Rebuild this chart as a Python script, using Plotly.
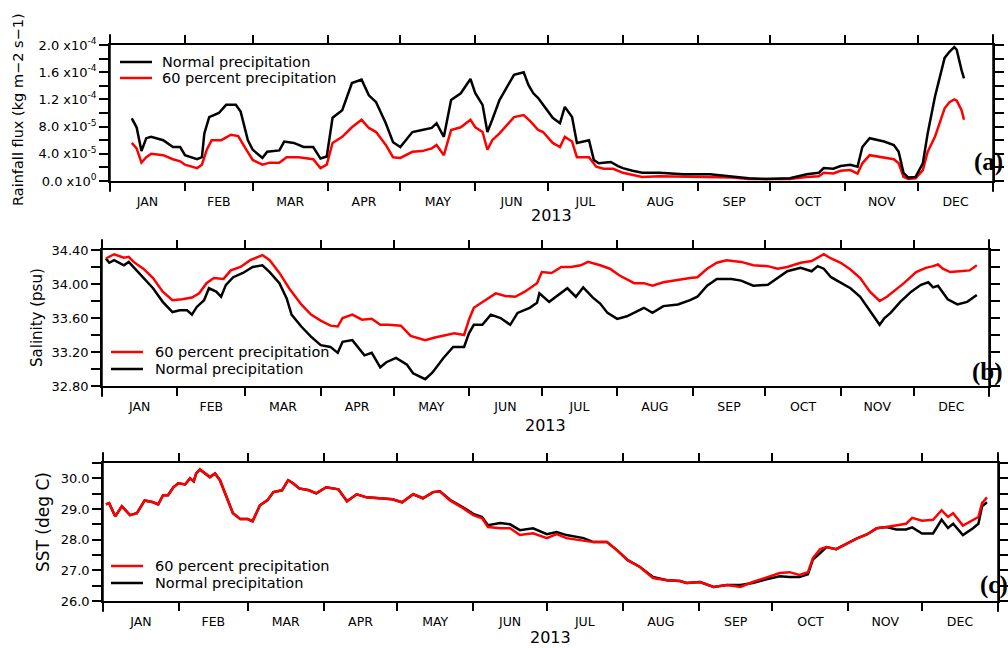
"""Three-panel time series: rainfall flux, salinity and SST for 2013."""

import pandas as pd
import plotly.graph_objects as go

# ---------------- data (day of year 2013) -------------
# (a) rainfall flux, in units of 1e-5 kg m-2 s-1
rain_normal_days = [9, 11, 13, 15, 17, 22, 26, 29, 31, 36, 38, 39, 41, 45, 48, 52, 54, 57, 59, 63,
                    65, 70, 72, 76, 80, 84, 87, 89.6, 92, 96, 100, 104, 107, 110, 114, 117, 120, 125,
                    129, 133, 135, 138, 141, 145, 149, 151, 154, 156, 158, 161, 167, 171, 173, 175,
                    177, 179, 183, 186, 188, 191, 193, 198, 200, 202, 207, 210, 212, 216, 220, 227,
                    237, 248, 257, 264, 271, 281, 288, 293, 295, 299, 302, 306, 309, 311, 314, 320,
                    324, 326, 328, 330, 333, 336, 338, 341, 345, 347, 349, 350, 352, 353]
rain_normal = [9.2, 7.9, 4.4, 6.3, 6.5, 6.0, 5.0, 5.0, 3.8, 3.2, 3.5, 7.0, 9.4, 10.0, 11.2, 11.2, 10.2,
               6.0, 4.6, 3.4, 4.3, 4.5, 5.8, 5.6, 5.0, 5.0, 3.3, 3.6, 9.3, 10.4, 14.4, 14.9, 12.6,
               11.6, 8.5, 5.7, 5.0, 7.2, 7.5, 7.8, 8.5, 6.5, 11.9, 12.9, 15.0, 12.9, 11.2, 7.2, 9.0,
               11.9, 15.6, 16.0, 14.1, 12.9, 12.2, 11.2, 9.3, 8.5, 10.9, 9.4, 5.6, 6.0, 3.1, 2.6,
               2.8, 2.2, 1.9, 1.5, 1.2, 1.2, 1.0, 1.0, 0.7, 0.4, 0.3, 0.4, 1.0, 1.2, 1.9, 1.8, 2.2,
               2.4, 2.1, 5.0, 6.3, 5.8, 5.3, 4.3, 1.2, 0.5, 0.6, 2.6, 7.0, 12.4, 18.1, 19.0, 19.7,
               19.3, 16.3, 15.1]

rain_60_days = [9, 11, 13, 15, 17, 22, 26, 29, 31, 36, 38, 40, 42, 46, 50, 53, 56, 59, 63, 66, 70,
                73, 78, 84, 87, 89.6, 92, 96, 100, 104, 107, 110, 114, 117, 120, 125, 129, 133, 135,
                138, 141, 145, 149, 151, 154, 156, 158, 161, 167, 171, 174, 177, 179, 183, 186, 188,
                191, 193, 198, 201, 204, 208, 212, 216, 220, 227, 237, 248, 257, 264, 271, 281, 288,
                293, 295, 299, 302, 306, 309, 311, 314, 320, 324, 326, 328, 330, 333, 336, 338, 341,
                345, 347, 349, 350, 352, 353]
rain_60 = [5.6, 4.8, 2.7, 3.5, 4.0, 3.8, 3.2, 2.9, 2.4, 1.9, 2.4, 4.6, 6.0, 6.0, 6.8, 6.6, 4.8, 3.1,
           2.4, 2.7, 2.7, 3.5, 3.5, 3.2, 1.9, 2.4, 5.6, 6.5, 7.9, 9.0, 7.8, 7.2, 5.3, 3.5, 3.4, 4.3,
           4.4, 4.8, 5.3, 3.8, 7.5, 7.9, 9.0, 7.9, 7.2, 4.6, 6.0, 7.0, 9.4, 9.7, 8.7, 7.5, 7.2, 5.6,
           5.0, 6.5, 5.8, 3.5, 3.5, 2.1, 1.8, 1.8, 1.2, 0.9, 0.6, 0.7, 0.6, 0.6, 0.5, 0.3, 0.3, 0.3,
           0.6, 0.7, 1.2, 1.1, 1.5, 1.6, 1.1, 2.6, 3.8, 3.5, 3.2, 2.6, 0.6, 0.3, 0.4, 1.6, 4.3, 6.5,
           10.7, 11.6, 12.0, 11.8, 10.4, 9.0]

# (b) salinity, psu
sal_normal_days = [1.6, 3, 5, 9, 11, 13, 17, 21, 25, 29, 32, 35, 37, 39, 42, 44, 47, 49, 51, 54, 58,
                   62, 66, 69, 73, 76, 78, 82, 86, 90, 94, 97, 99, 103, 108, 111, 114.5, 117, 121,
                   125.5, 128, 133, 136, 140.5, 144.5, 149, 151, 153, 156.5, 160, 164, 168, 171,
                   176, 179, 180, 184, 187, 191.5, 195, 198, 202, 205, 208, 212, 216, 219, 223,
                   226.5, 231, 237, 242, 245, 249, 253, 259, 263, 268, 274, 278, 282, 287.5, 292,
                   294.5, 297, 300, 304, 308, 312, 316, 318, 320, 322, 324.5, 328.5, 333, 337, 340,
                   342, 344, 348, 352, 356, 360]
sal_normal = [34.30, 34.25, 34.28, 34.22, 34.26, 34.20, 34.08, 33.95, 33.79, 33.67, 33.69, 33.69,
              33.64, 33.73, 33.81, 33.95, 33.91, 33.85, 33.99, 34.08, 34.13, 34.20, 34.22, 34.14,
              34.01, 33.83, 33.64, 33.50, 33.38, 33.28, 33.26, 33.19, 33.32, 33.34, 33.16, 33.19,
              33.02, 33.08, 33.13, 33.05, 32.95, 32.88, 32.96, 33.13, 33.26, 33.26, 33.42, 33.52,
              33.52, 33.64, 33.60, 33.52, 33.66, 33.72, 33.78, 33.89, 33.79, 33.85, 33.95, 33.85,
              33.96, 33.84, 33.77, 33.66, 33.59, 33.62, 33.66, 33.72, 33.66, 33.74, 33.76, 33.81,
              33.85, 33.98, 34.06, 34.06, 34.04, 33.98, 33.99, 34.07, 34.15, 34.19, 34.15, 34.21,
              34.18, 34.08, 34.01, 33.95, 33.85, 33.69, 33.61, 33.52, 33.60, 33.66, 33.79, 33.91,
              33.99, 34.02, 33.96, 33.98, 33.82, 33.76, 33.79, 33.87]

sal_60_days = [1.6, 5, 9, 11, 13, 17, 21, 25, 29, 33, 37, 40, 43, 46, 50, 53, 57, 61, 66, 69, 73, 77,
               82, 86, 90, 94, 97, 99, 103, 107, 111, 114.5, 118, 123, 127, 133, 137, 140.5, 145,
               149, 151, 153, 158, 162, 166, 170, 174, 179, 181, 185, 189, 193, 197, 200, 205, 209,
               213, 219, 223, 226.5, 231, 237, 242, 245, 249, 253, 257, 263, 268, 274, 278, 282,
               287.5, 292, 295, 297, 300, 304, 308, 312, 316, 320, 323, 326.5, 330, 335, 339, 342,
               344, 346, 349, 353, 357, 360]
sal_60 = [34.30, 34.35, 34.31, 34.32, 34.26, 34.18, 34.07, 33.91, 33.81, 33.82, 33.84, 33.89, 34.01,
          34.07, 34.06, 34.16, 34.20, 34.28, 34.34, 34.28, 34.13, 33.95, 33.76, 33.64, 33.57, 33.51,
          33.50, 33.60, 33.64, 33.58, 33.59, 33.52, 33.52, 33.51, 33.39, 33.34, 33.37, 33.39, 33.42,
          33.40, 33.58, 33.72, 33.81, 33.89, 33.86, 33.85, 33.91, 34.01, 34.14, 34.13, 34.20, 34.20,
          34.22, 34.26, 34.22, 34.18, 34.10, 34.01, 34.01, 33.98, 34.02, 34.05, 34.07, 34.08, 34.18,
          34.25, 34.28, 34.26, 34.22, 34.21, 34.18, 34.20, 34.25, 34.27, 34.32, 34.35, 34.30, 34.25,
          34.17, 34.07, 33.91, 33.80, 33.85, 33.93, 34.01, 34.14, 34.19, 34.21, 34.23, 34.18, 34.14,
          34.15, 34.16, 34.22]

# (c) SST, deg C
sst_days = [1.2, 2.5, 5, 7.7, 11, 13.8, 17, 20.5, 22.5, 24.5, 26.5, 28.7, 30.7, 33.5, 35.5, 37, 38,
            39.5, 43.6, 45.7, 47.7, 50.5, 53, 56, 59, 61, 64, 67, 69.5, 73, 75.5, 77.5, 80, 84, 87,
            91, 96, 99.5, 103.5, 107.5, 113, 118, 122, 126.5, 130.5, 134.6, 137.4, 141.5, 147, 151,
            154.6, 157, 162, 166, 170, 175.4, 181, 185, 189, 196, 200, 205.5, 209.6, 214, 219,
            224.3, 230, 235.3, 238, 243.5, 249, 254.5, 260, 265, 271, 276, 280, 284, 287.5, 289.5,
            292.5, 295, 299, 303.5, 307.5, 311.5, 315.5, 319.5, 323.5, 327.5, 330, 334, 338.5, 342,
            344.6, 346.7, 350.7, 354.8, 357, 358.5, 360.5]
sst_normal = [29.15, 29.19, 28.76, 29.09, 28.80, 28.86, 29.28, 29.22, 29.15, 29.45, 29.45, 29.71,
              29.84, 29.80, 30.00, 29.90, 30.16, 30.29, 30.04, 30.16, 29.94, 29.38, 28.86, 28.67,
              28.67, 28.60, 29.12, 29.28, 29.55, 29.61, 29.94, 29.84, 29.67, 29.61, 29.51, 29.71,
              29.64, 29.25, 29.48, 29.38, 29.35, 29.32, 29.22, 29.48, 29.35, 29.55, 29.58, 29.30,
              29.05, 28.84, 28.74, 28.47, 28.54, 28.50, 28.31, 28.37, 28.18, 28.25, 28.15, 28.05,
              27.92, 27.92, 27.66, 27.33, 27.11, 26.78, 26.68, 26.65, 26.59, 26.62, 26.46, 26.52,
              26.52, 26.59, 26.72, 26.81, 26.78, 26.78, 26.87, 27.35, 27.56, 27.76, 27.69, 27.89,
              28.04, 28.17, 28.37, 28.41, 28.33, 28.33, 28.40, 28.20, 28.20, 28.65, 28.38, 28.52,
              28.15, 28.37, 28.52, 29.09, 29.22]
sst_60 = [29.15, 29.19, 28.76, 29.09, 28.80, 28.86, 29.28, 29.22, 29.15, 29.45, 29.45, 29.71,
          29.84, 29.80, 30.00, 29.90, 30.16, 30.29, 30.04, 30.16, 29.94, 29.38, 28.86, 28.67,
          28.67, 28.60, 29.12, 29.28, 29.55, 29.61, 29.94, 29.84, 29.67, 29.61, 29.51, 29.71,
          29.64, 29.25, 29.48, 29.38, 29.35, 29.32, 29.22, 29.48, 29.35, 29.55, 29.58, 29.28,
          29.02, 28.80, 28.70, 28.41, 28.37, 28.37, 28.15, 28.21, 28.05, 28.18, 28.05, 27.98,
          27.92, 27.92, 27.66, 27.33, 27.11, 26.75, 26.68, 26.65, 26.59, 26.62, 26.46, 26.52,
          26.46, 26.62, 26.78, 26.91, 26.94, 26.85, 26.94, 27.40, 27.69, 27.76, 27.69, 27.89,
          28.04, 28.17, 28.37, 28.41, 28.46, 28.52, 28.71, 28.62, 28.65, 28.96, 28.74, 28.86,
          28.46, 28.65, 28.74, 29.19, 29.38]

month_labels = ["JAN", "FEB", "MAR", "APR", "MAY", "JUN", "JUL", "AUG", "SEP", "OCT", "NOV", "DEC"]
year_label = "2013"

rain_tickvals = [0, 4, 8, 12, 16, 20]
rain_ticktext = ["0.0 x10<sup>0</sup>", "4.0 x10<sup>-5</sup>", "8.0 x10<sup>-5</sup>",
                 "1.2 x10<sup>-4</sup>", "1.6 x10<sup>-4</sup>", "2.0 x10<sup>-4</sup>"]

# ---------------- helpers ------------------------------------------------------------
T0 = pd.Timestamp("2013-01-01")


def to_dates(days):
    return T0 + pd.to_timedelta(days, unit="D")


month_mid = [pd.Timestamp(2013, m, 1) + (pd.Timestamp(2013 + m // 12, m % 12 + 1, 1) - pd.Timestamp(2013, m, 1)) / 2
             for m in range(1, 13)]

W, H = 1008, 648


def px(X):
    return X / W


def py(Y):
    return 1 - Y / H


FONT = "DejaVu Sans, Verdana, sans-serif"
BLACK = "#000000"
RED = "#ff0000"

# panel boxes in pixels: (left, right, top, bottom)
boxes = {
    "a": (110, 993, 45, 181),
    "b": (102, 989, 250, 386),
    "c": (103, 998, 463, 601),
}

fig = go.Figure()

fig.add_trace(go.Scatter(x=to_dates(rain_60_days), y=rain_60, name="60 percent precipitation",
                         mode="lines", line=dict(color=RED, width=2.5), xaxis="x", yaxis="y"))
fig.add_trace(go.Scatter(x=to_dates(rain_normal_days), y=rain_normal, name="Normal precipitation",
                         mode="lines", line=dict(color=BLACK, width=2.5), xaxis="x", yaxis="y"))

fig.add_trace(go.Scatter(x=to_dates(sal_normal_days), y=sal_normal, name="Normal precipitation",
                         mode="lines", line=dict(color=BLACK, width=2.5), xaxis="x2", yaxis="y2"))
fig.add_trace(go.Scatter(x=to_dates(sal_60_days), y=sal_60, name="60 percent precipitation",
                         mode="lines", line=dict(color=RED, width=2.5), xaxis="x2", yaxis="y2"))

fig.add_trace(go.Scatter(x=to_dates(sst_days), y=sst_normal, name="Normal precipitation",
                         mode="lines", line=dict(color=BLACK, width=2.5), xaxis="x3", yaxis="y3"))
fig.add_trace(go.Scatter(x=to_dates(sst_days), y=sst_60, name="60 percent precipitation",
                         mode="lines", line=dict(color=RED, width=2.5), xaxis="x3", yaxis="y3"))


def xaxis_cfg(box, anchor):
    l, r, t, b = box
    return dict(
        domain=[px(l), px(r)], range=[T0, pd.Timestamp("2014-01-01")], type="date", anchor=anchor,
        tickmode="array", tickvals=month_mid, ticktext=month_labels,
        ticks="outside", ticklen=8, tickcolor="rgba(0,0,0,0)",
        minor=dict(ticks="outside", ticklen=8, tickcolor=BLACK, tickwidth=1.5,
                   dtick="M1", tick0="2013-01-01", showgrid=False),
        showline=True, linecolor=BLACK, linewidth=1.5, mirror="ticks",
        showgrid=False, zeroline=False, automargin=False,
        tickfont=dict(family=FONT, size=12.5, color=BLACK),
    )


def yaxis_cfg(box, anchor, rng, minor_dtick, **kw):
    l, r, t, b = box
    cfg = dict(
        domain=[py(b), py(t)], range=rng, anchor=anchor,
        ticks="outside", ticklen=9, tickwidth=1.5, tickcolor=BLACK,
        minor=dict(ticks="outside", ticklen=9, tickwidth=1.5, tickcolor=BLACK,
                   dtick=minor_dtick, showgrid=False),
        showline=True, linecolor=BLACK, linewidth=1.5, mirror="ticks",
        showgrid=False, zeroline=False, automargin=False,
        tickfont=dict(family=FONT, size=13, color=BLACK),
    )
    cfg.update(kw)
    return cfg


fig.update_layout(
    width=W, height=H,
    margin=dict(l=0, r=0, t=0, b=0),
    paper_bgcolor="white", plot_bgcolor="white",
    font=dict(family=FONT, color=BLACK),
    showlegend=False,
    xaxis=xaxis_cfg(boxes["a"], "y"),
    xaxis2=xaxis_cfg(boxes["b"], "y2"),
    xaxis3=xaxis_cfg(boxes["c"], "y3"),
    yaxis=yaxis_cfg(boxes["a"], "x", [0, 20], 2, tickmode="array",
                    tickvals=rain_tickvals, ticktext=rain_ticktext),
    yaxis2=yaxis_cfg(boxes["b"], "x2", [32.8, 34.4], 0.2, dtick=0.4, tick0=32.8, tickformat=".2f"),
    yaxis3=yaxis_cfg(boxes["c"], "x3", [26.0, 30.5], 0.5, dtick=1, tick0=26, tickformat=".1f"),
)

# extended vertical axis lines (axes stick out past the frame)
for key, ax in (("a", ""), ("b", "2"), ("c", "3")):
    l, r, t, b = boxes[key]
    ext = 11 / (b - t)
    for xv in (0, 1):
        fig.add_shape(type="line", xref=f"x{ax} domain", yref=f"y{ax} domain",
                      x0=xv, x1=xv, y0=-ext, y1=1 + ext, line=dict(color=BLACK, width=1.5))

# legends drawn as keyed lines + labels, (line x0, line x1, text x, [(y, colour, label), ...])
legends = {
    "a": (120, 152, 160, [(62, BLACK, "Normal precipitation"), (78, RED, "60 percent precipitation")]),
    "b": (111, 143, 153, [(352, RED, "60 percent precipitation"), (369, BLACK, "Normal precipitation")]),
    "c": (111, 143, 153, [(566, RED, "60 percent precipitation"), (583, BLACK, "Normal precipitation")]),
}
for key, (lx0, lx1, tx, items) in legends.items():
    for yy, col, label in items:
        fig.add_shape(type="line", xref="paper", yref="paper", x0=px(lx0), x1=px(lx1),
                      y0=py(yy), y1=py(yy), line=dict(color=col, width=2.5))
        fig.add_annotation(text=label, x=px(tx), y=py(yy), xref="paper", yref="paper",
                           xanchor="left", yanchor="middle", showarrow=False,
                           font=dict(family=FONT, size=14.5, color=BLACK))

# year labels, panel letters and y titles
year_y = {"a": 215, "b": 425, "c": 637}
letters = {"a": (988, 162), "b": (987, 372), "c": (994, 585)}
ytitles = {"a": ("Rainfall flux (kg m\u22122 s\u22121)", 18, 110, 14.5),
           "b": ("Salinity (psu)", 37, 318, 15),
           "c": ("SST (deg C)", 43, 522, 17)}
for key, (l, r, t, b) in boxes.items():
    fig.add_annotation(text=year_label, x=px((l + r) / 2), y=py(year_y[key]), xref="paper",
                       yref="paper", xanchor="center", yanchor="middle", showarrow=False,
                       font=dict(family=FONT, size=16, color=BLACK))
    lx, ly = letters[key]
    fig.add_annotation(text=f"<b>({key})</b>", x=px(lx), y=py(ly), xref="paper", yref="paper",
                       xanchor="center", yanchor="middle", showarrow=False,
                       font=dict(family="Liberation Serif, DejaVu Serif, serif", size=25, color=BLACK))
    txt, tx, ty, fs = ytitles[key]
    fig.add_annotation(text=txt, x=px(tx), y=py(ty), xref="paper", yref="paper",
                       xanchor="center", yanchor="middle", showarrow=False, textangle=-90,
                       font=dict(family=FONT, size=fs, color=BLACK))

# page body has a default 8px margin; drop it so the figure fills the window exactly
fig.write_html("out.html", config={"displayModeBar": False},
               post_script="document.body.style.margin='0';document.body.style.overflow='hidden';")
